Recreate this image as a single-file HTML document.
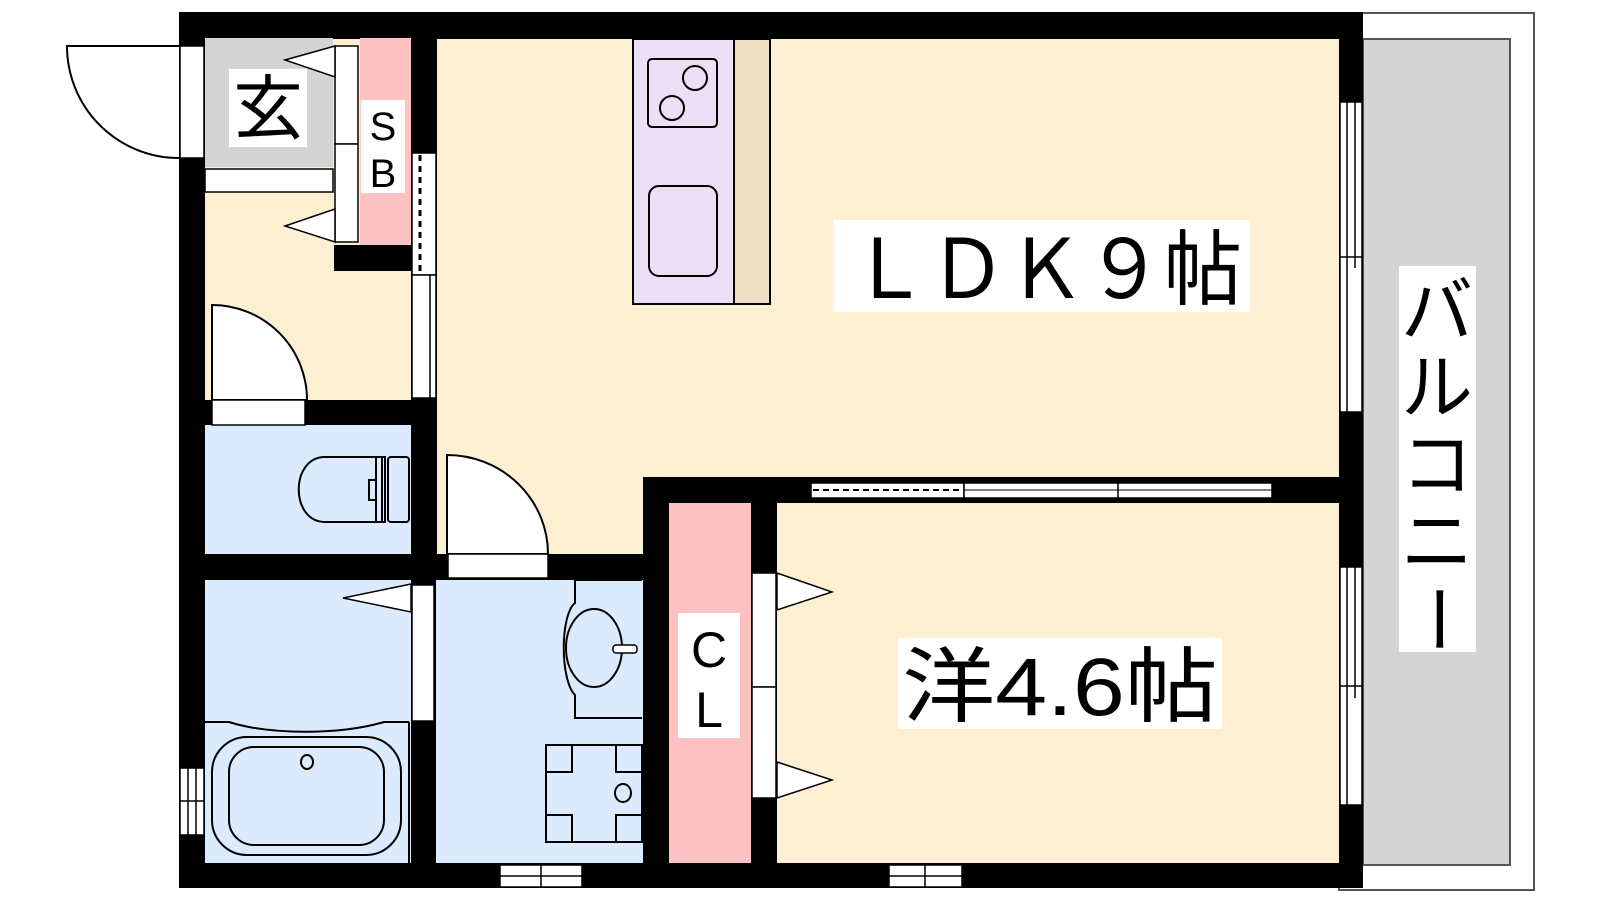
<!DOCTYPE html>
<html><head><meta charset="utf-8"><style>html,body{margin:0;padding:0;background:#fff}svg{display:block}text{font-family:"Liberation Sans","Noto Sans CJK JP",sans-serif;fill:#000}</style></head><body>
<svg width="1600" height="900" viewBox="0 0 1600 900" xmlns="http://www.w3.org/2000/svg">
<!-- balcony -->
<rect x="1339" y="13" width="195" height="877" fill="#fff" stroke="#555" stroke-width="2"/>
<rect x="1363" y="39" width="147" height="826" fill="#d4d4d4" stroke="#555" stroke-width="2"/>
<!-- outer wall block -->
<rect x="179" y="12" width="1184" height="876" fill="#000"/>
<!-- rooms -->
<rect x="437" y="39" width="902" height="438" fill="#fdf0d2"/>
<rect x="777" y="503" width="562" height="360" fill="#fdf0d2"/>
<rect x="205" y="39" width="206" height="361" fill="#fdf0d2"/>
<rect x="411" y="39" width="26" height="114" fill="#000"/>
<rect x="205" y="38" width="128" height="129" fill="#d4d4d4"/>
<rect x="205" y="169" width="128" height="23" fill="#fff" stroke="#000" stroke-width="1.5"/>
<rect x="360" y="38" width="51" height="207" fill="#fdc1c1"/>
<rect x="334" y="245" width="77" height="26" fill="#000"/>
<rect x="335" y="46" width="23" height="98" fill="#fff" stroke="#000" stroke-width="1.5"/>
<rect x="335" y="144" width="23" height="98" fill="#fff" stroke="#000" stroke-width="1.5"/>
<polygon points="335,46 285,60 335,77" fill="#fff" stroke="#000" stroke-width="1.5"/>
<polygon points="335,209 285,226 335,242" fill="#fff" stroke="#000" stroke-width="1.5"/>
<rect x="361" y="100" width="44" height="93" fill="#fff"/>
<text x="383" y="140" font-size="40" text-anchor="middle">S</text>
<text x="383" y="187" font-size="40" text-anchor="middle">B</text>
<rect x="229" y="69" width="78" height="78" fill="#fff"/>
<text x="268" y="133" font-size="70" text-anchor="middle">玄</text>
<!-- entry door -->
<rect x="180" y="46" width="24" height="112" fill="#fff" stroke="#000" stroke-width="1.5"/>
<path d="M179,46 L67,46 A112,112 0 0 0 179,158" fill="#fff" stroke="#000" stroke-width="2"/>
<!-- hall/LDK partition sliding -->
<rect x="412" y="153" width="24" height="122" fill="#fff" stroke="#000" stroke-width="1.5"/>
<line x1="420" y1="155" x2="420" y2="273" stroke="#000" stroke-width="3" stroke-dasharray="6,5"/>
<rect x="412" y="275" width="24" height="123" fill="#fff" stroke="#000" stroke-width="1.5"/>
<line x1="430" y1="275" x2="430" y2="398" stroke="#000" stroke-width="1.5"/>
<!-- toilet -->
<rect x="205" y="425" width="206" height="129" fill="#dbebfd"/>
<path d="M212,400 L212,305 A95,95 0 0 1 307,400 Z" fill="#fff" stroke="#000" stroke-width="2"/>
<rect x="212" y="400" width="93" height="25" fill="#fff" stroke="#000" stroke-width="1.5"/>
<path d="M382,457 L325,457 C290,457 290,522 325,522 L382,522 Z" fill="#fff0" stroke="#000" stroke-width="2"/>
<rect x="376" y="457" width="9" height="65" fill="none" stroke="#000" stroke-width="2"/>
<rect x="369" y="480" width="7" height="20" fill="none" stroke="#000" stroke-width="2"/>
<rect x="388" y="457" width="21" height="65" rx="3" fill="none" stroke="#000" stroke-width="2"/>
<!-- washroom area top in LDK -->
<rect x="437" y="477" width="206" height="77" fill="#fdf0d2"/>
<path d="M447,554 L447,455 A101,99 0 0 1 548,554 Z" fill="#fff" stroke="#000" stroke-width="2"/>
<rect x="448" y="554" width="100" height="24" fill="#fff" stroke="#000" stroke-width="1.5"/>
<!-- bathroom -->
<rect x="205" y="580" width="206" height="283" fill="#dbebfd"/>
<rect x="436" y="580" width="207" height="283" fill="#dbebfd"/>
<rect x="412" y="585" width="22" height="136" fill="#fff" stroke="#000" stroke-width="1.5"/>
<polygon points="411,584 343,598 411,612" fill="#fff" stroke="#000" stroke-width="1.5"/>
<path d="M205,722 L229,722 C270,735 340,735 384,722 L409,722" fill="none" stroke="#000" stroke-width="2"/>
<line x1="409" y1="722" x2="409" y2="863" stroke="#000" stroke-width="2"/>
<rect x="212" y="737" width="189" height="118" rx="35" fill="none" stroke="#000" stroke-width="2"/>
<rect x="229" y="747" width="155" height="98" rx="25" fill="none" stroke="#000" stroke-width="2"/>
<ellipse cx="307" cy="762" rx="6" ry="7" fill="none" stroke="#000" stroke-width="2"/>
<rect x="180" y="768" width="24" height="67" fill="#fff" stroke="#000" stroke-width="1.5"/>
<line x1="180" y1="801" x2="204" y2="801" stroke="#000" stroke-width="1.5"/>
<line x1="188" y1="768" x2="188" y2="835" stroke="#000" stroke-width="1.5"/>
<line x1="196" y1="768" x2="196" y2="835" stroke="#000" stroke-width="1.5"/>
<!-- sink -->
<path d="M642,580 L575,580 L575,603 C560,615 560,680 575,695 L575,718 L642,718" fill="none" stroke="#000" stroke-width="2"/>
<ellipse cx="594" cy="648" rx="28" ry="39" fill="none" stroke="#000" stroke-width="2"/>
<rect x="613" y="645" width="24" height="8" rx="3" fill="#fff" stroke="#000" stroke-width="1.5"/>
<!-- washer -->
<rect x="546" y="745" width="96" height="97" fill="none" stroke="#000" stroke-width="2"/>
<path d="M546,772 L572,772 L572,745 M616,745 L616,772 L642,772 M546,815 L572,815 L572,842 M616,842 L616,815 L642,815" fill="none" stroke="#000" stroke-width="2"/>
<ellipse cx="623" cy="793" rx="8" ry="9" fill="none" stroke="#000" stroke-width="2"/>
<!-- CL -->
<rect x="669" y="503" width="82" height="360" fill="#fdc1c1"/>
<rect x="678" y="613" width="62" height="125" fill="#fff"/>
<text x="709" y="667" font-size="50" text-anchor="middle">C</text>
<text x="709" y="727" font-size="50" text-anchor="middle">L</text>
<rect x="752" y="573" width="24" height="114" fill="#fff" stroke="#000" stroke-width="1.5"/>
<rect x="752" y="687" width="24" height="111" fill="#fff" stroke="#000" stroke-width="1.5"/>
<polygon points="777,573 832,592 777,610" fill="#fff" stroke="#000" stroke-width="1.5"/>
<polygon points="777,762 832,780 777,798" fill="#fff" stroke="#000" stroke-width="1.5"/>
<!-- LDK/洋 partition sliding -->
<rect x="810" y="477" width="462" height="26" fill="#000"/>
<rect x="811" y="483" width="153" height="15" fill="#fff" stroke="#000" stroke-width="1.5"/>
<line x1="813" y1="490" x2="962" y2="490" stroke="#000" stroke-width="2" stroke-dasharray="6,4"/>
<rect x="964" y="483" width="308" height="15" fill="#fff" stroke="#000" stroke-width="1.5"/>
<line x1="964" y1="490" x2="1272" y2="490" stroke="#000" stroke-width="1"/>
<line x1="1118" y1="483" x2="1118" y2="498" stroke="#000" stroke-width="1.5"/>
<!-- bottom windows -->
<rect x="500" y="865" width="82" height="22" fill="#fff" stroke="#000" stroke-width="1.5"/>
<line x1="500" y1="876" x2="582" y2="876" stroke="#000" stroke-width="1.5"/>
<line x1="541" y1="865" x2="541" y2="887" stroke="#000" stroke-width="1.5"/>
<rect x="889" y="865" width="73" height="22" fill="#fff" stroke="#000" stroke-width="1.5"/>
<line x1="889" y1="876" x2="962" y2="876" stroke="#000" stroke-width="1.5"/>
<line x1="925" y1="865" x2="925" y2="887" stroke="#000" stroke-width="1.5"/>
<!-- right windows -->
<rect x="1340" y="102" width="22" height="310" fill="#fff" stroke="#000" stroke-width="1.5"/>
<line x1="1347" y1="102" x2="1347" y2="412" stroke="#000" stroke-width="1.5"/>
<line x1="1355" y1="102" x2="1355" y2="268" stroke="#000" stroke-width="1.5"/>
<line x1="1340" y1="257" x2="1362" y2="257" stroke="#000" stroke-width="1.5"/>
<rect x="1340" y="567" width="22" height="238" fill="#fff" stroke="#000" stroke-width="1.5"/>
<line x1="1347" y1="567" x2="1347" y2="805" stroke="#000" stroke-width="1.5"/>
<line x1="1355" y1="567" x2="1355" y2="698" stroke="#000" stroke-width="1.5"/>
<line x1="1340" y1="686" x2="1362" y2="686" stroke="#000" stroke-width="1.5"/>
<!-- kitchen -->
<rect x="633" y="39" width="101" height="265" fill="#ecdff5" stroke="#000" stroke-width="2"/>
<rect x="734" y="39" width="36" height="265" fill="#efdfc3" stroke="#000" stroke-width="2"/>
<rect x="648" y="59" width="69" height="68" rx="4" fill="none" stroke="#000" stroke-width="2"/>
<ellipse cx="695" cy="78" rx="12" ry="12" fill="none" stroke="#000" stroke-width="2"/>
<ellipse cx="672" cy="108" rx="12" ry="12" fill="none" stroke="#000" stroke-width="2"/>
<rect x="649" y="186" width="68" height="90" rx="10" fill="none" stroke="#000" stroke-width="2"/>
<!-- labels -->
<rect x="833" y="220" width="417" height="92" fill="#fff"/>
<text x="850" y="298" font-size="82" textLength="392" lengthAdjust="spacingAndGlyphs">ＬＤＫ９帖</text>
<rect x="898" y="638" width="324" height="91" fill="#fff"/>
<text x="902" y="715" font-size="82" textLength="316" lengthAdjust="spacingAndGlyphs">洋4.6帖</text>
<rect x="1399" y="266" width="77" height="386" fill="#fff"/>
<text x="1437" y="336" font-size="72" text-anchor="middle">バ</text>
<text x="1437" y="413" font-size="72" text-anchor="middle">ル</text>
<text x="1437" y="490" font-size="72" text-anchor="middle">コ</text>
<text x="1437" y="567" font-size="72" text-anchor="middle">ニ</text>
<text x="1437" y="644" font-size="72" text-anchor="middle" transform="rotate(90 1437 619)">ー</text>
</svg>
</body></html>
